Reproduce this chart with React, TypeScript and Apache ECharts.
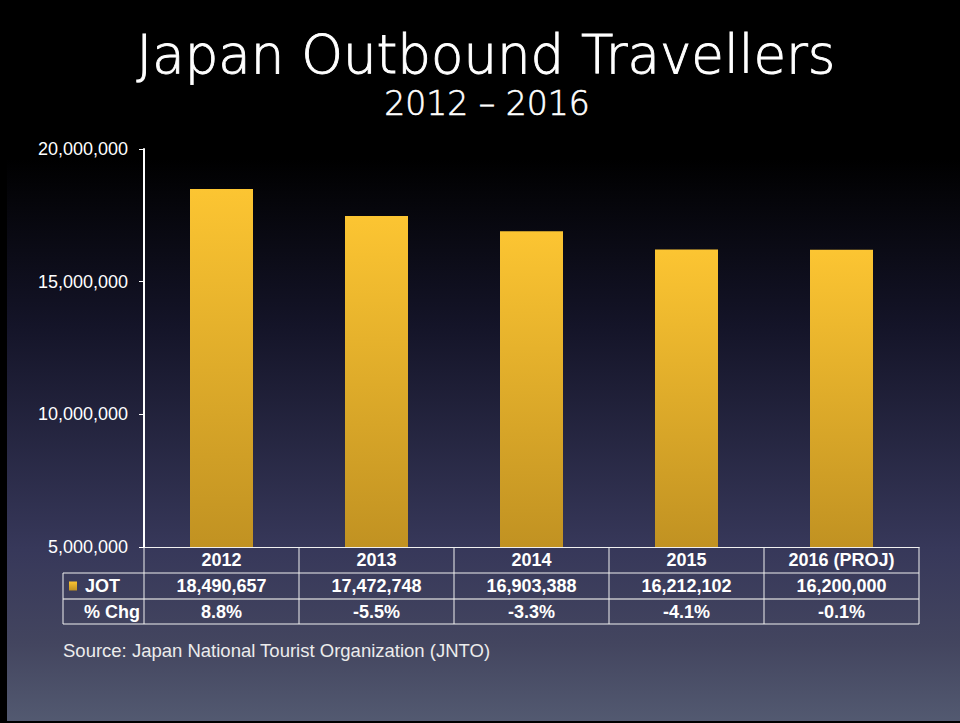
import React, { useEffect, useRef } from "react";
import * as echarts from "echarts";

const years = ["2012", "2013", "2014", "2015", "2016 (PROJ)"];
const jotValues = [18490657, 17472748, 16903388, 16212102, 16200000];
const pctChange = [8.8, -5.5, -3.3, -4.1, -0.1];
const yTicks = { min: 5000000, max: 20000000, interval: 5000000 };
const titleText = "Japan Outbound Travellers";
const subtitleText = "2012 – 2016";
const sourceText = "Source: Japan National Tourist Organization (JNTO)";
const seriesName = "JOT";
const pctRowLabel = "% Chg";

const W = 960;
const H = 723;
const GRID = { left: 144, right: 919, top: 149, bottom: 547 };
const ROW_H = 26;
const TABLE_LEFT = 63;

const fmt = (v: number) => v.toLocaleString("en-US");

export default function App() {
  const ref = useRef<HTMLDivElement>(null);
  useEffect(() => {
    document.body.style.margin = "0";
    if (!ref.current) return;
    const chart = echarts.init(ref.current, undefined, { renderer: "svg" });

    const barGradient = new echarts.graphic.LinearGradient(0, 0, 0, 1, [
      { offset: 0, color: "#FCC532" },
      { offset: 1, color: "#C19222" },
    ]);
    const bg = new echarts.graphic.LinearGradient(0, 0, 0, 1, [
      { offset: 0, color: "#000000" },
      { offset: 0.22, color: "#000000" },
      { offset: 0.45, color: "#141428" },
      { offset: 0.76, color: "#37385A" },
      { offset: 0.89, color: "#43455F" },
      { offset: 1, color: "#535A71" },
    ]);

    const n = years.length;
    const colW = (GRID.right - GRID.left) / n;
    const r1 = GRID.bottom + ROW_H;
    const r2 = GRID.bottom + ROW_H * 2;
    const r3 = GRID.bottom + ROW_H * 3 - 1;
    const lineStyle = { stroke: "#f0f0f0", lineWidth: 1 };
    const tableLines: any[] = [
      { type: "line", shape: { x1: TABLE_LEFT, y1: r1, x2: GRID.right, y2: r1 }, style: lineStyle },
      { type: "line", shape: { x1: TABLE_LEFT, y1: r2, x2: GRID.right, y2: r2 }, style: { stroke: "#c4c4c8", lineWidth: 1.5 } },
      { type: "line", shape: { x1: TABLE_LEFT, y1: r3, x2: GRID.right, y2: r3 }, style: lineStyle },
      { type: "line", shape: { x1: TABLE_LEFT, y1: r1, x2: TABLE_LEFT, y2: r3 }, style: lineStyle },
    ];
    for (let i = 0; i <= n; i++) {
      const x = Math.round(GRID.left + colW * i);
      tableLines.push({
        type: "line",
        shape: { x1: x, y1: GRID.bottom, x2: x, y2: r3 },
        style: lineStyle,
      });
    }

    const boldLabel = {
      color: "#ffffff",
      fontFamily: "Liberation Sans, Arial, sans-serif",
      fontWeight: "bold" as const,
      fontSize: 18,
      lineHeight: ROW_H,
      margin: 0,
    };

    const option: any = {
      animation: false,
      backgroundColor: bg,
      grid: {
        left: GRID.left,
        right: W - GRID.right,
        top: GRID.top,
        bottom: H - GRID.bottom,
        containLabel: false,
      },
      legend: {
        left: 69,
        top: r1 + 4,
        padding: 0,
        icon: "rect",
        itemWidth: 8,
        itemHeight: 9,
        itemGap: 5,
        selectedMode: false,
        data: [seriesName],
        textStyle: {
          color: "#ffffff",
          fontFamily: "Liberation Sans, Arial, sans-serif",
          fontWeight: "bold",
          fontSize: 18,
          padding: [0, 0, 0, 3],
        },
      },
      xAxis: [
        {
          type: "category",
          data: years,
          position: "bottom",
          axisLine: { show: true, lineStyle: { color: "#f0f0f0", width: 1 } },
          axisTick: { show: false },
          axisLabel: boldLabel,
        },
        {
          type: "category",
          data: jotValues.map(fmt),
          position: "bottom",
          offset: ROW_H,
          axisLine: { show: false },
          axisTick: { show: false },
          axisLabel: boldLabel,
        },
        {
          type: "category",
          data: pctChange.map((v) => v.toFixed(1) + "%"),
          position: "bottom",
          offset: ROW_H * 2,
          axisLine: { show: false },
          axisTick: { show: false },
          axisLabel: boldLabel,
        },
      ],
      yAxis: {
        type: "value",
        min: yTicks.min,
        max: yTicks.max,
        interval: yTicks.interval,
        splitLine: { show: false },
        axisLine: { show: true, lineStyle: { color: "#ffffff", width: 2 } },
        axisTick: { show: true, length: 5, lineStyle: { color: "#ffffff", width: 1 } },
        axisLabel: {
          color: "#ffffff",
          fontFamily: "Liberation Sans, Arial, sans-serif",
          fontSize: 18,
          margin: 16,
          formatter: (v: number) => fmt(v),
        },
      },
      series: [
        {
          name: seriesName,
          type: "bar",
          xAxisIndex: 0,
          data: jotValues,
          barWidth: 63,
          itemStyle: { color: barGradient },
        },
      ],
      graphic: [
        ...tableLines,
        {
          type: "text",
          x: GRID.left - 4,
          y: GRID.bottom + ROW_H * 2.5,
          style: {
            text: pctRowLabel,
            fill: "#ffffff",
            font: "bold 18px 'Liberation Sans', Arial, sans-serif",
            textAlign: "right",
            textVerticalAlign: "middle",
          },
        },
        {
          type: "text",
          x: 486,
          y: 54,
          style: {
            text: titleText,
            fill: "#ffffff",
            stroke: "#ffffff",
            lineWidth: 0.9,
            font: "200 53px 'DejaVu Sans', sans-serif",
            textAlign: "center",
            textVerticalAlign: "middle",
          },
        },
        {
          type: "text",
          x: 487,
          y: 103,
          style: {
            text: subtitleText,
            fill: "#ffffff",
            stroke: "#ffffff",
            lineWidth: 0.6,
            font: "200 33px 'DejaVu Sans', sans-serif",
            textAlign: "center",
            textVerticalAlign: "middle",
          },
        },
        {
          type: "text",
          x: 63,
          y: 650,
          style: {
            text: sourceText,
            fill: "#ececec",
            font: "18.5px 'Liberation Sans', Arial, sans-serif",
            textAlign: "left",
            textVerticalAlign: "middle",
          },
        },
        { type: "rect", shape: { x: 0, y: 0, width: 7, height: H }, style: { fill: "#000000" } },
        { type: "rect", shape: { x: 0, y: H - 2, width: W, height: 2 }, style: { fill: "#000000" } },
      ],
    };
    chart.setOption(option);
    return () => chart.dispose();
  }, []);
  return <div ref={ref} style={{ width: W, height: H }} />;
}
